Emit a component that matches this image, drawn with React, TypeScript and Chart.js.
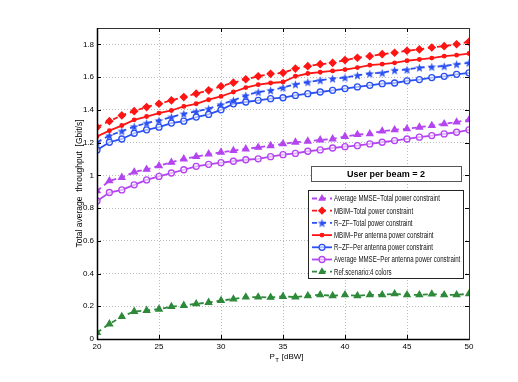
import React, { useEffect, useRef } from "react";
import { Chart, registerables } from "chart.js";
import { drawPoint } from "chart.js/helpers";

Chart.register(...registerables);

// ---------------- data ----------------
const powerDbw = [20, 21, 22, 23, 24, 25, 26, 27, 28, 29, 30, 31, 32, 33, 34, 35, 36, 37, 38, 39, 40, 41, 42, 43, 44, 45, 46, 47, 48, 49, 50];

const avgMmseTotal = [0.905, 0.966, 0.987, 1.02, 1.036, 1.058, 1.079, 1.1, 1.114, 1.13, 1.141, 1.151, 1.161, 1.171, 1.181, 1.192, 1.202, 1.208, 1.216, 1.222, 1.237, 1.249, 1.253, 1.27, 1.278, 1.284, 1.294, 1.304, 1.314, 1.325, 1.339];
const mbimTotal = [1.294, 1.331, 1.366, 1.392, 1.417, 1.437, 1.458, 1.478, 1.499, 1.519, 1.544, 1.566, 1.587, 1.605, 1.62, 1.626, 1.652, 1.667, 1.679, 1.687, 1.704, 1.718, 1.728, 1.74, 1.749, 1.761, 1.769, 1.781, 1.789, 1.801, 1.816];
const rzfTotal = [1.202, 1.243, 1.27, 1.298, 1.319, 1.335, 1.356, 1.376, 1.39, 1.407, 1.433, 1.458, 1.488, 1.509, 1.519, 1.536, 1.556, 1.57, 1.581, 1.591, 1.597, 1.611, 1.622, 1.626, 1.642, 1.646, 1.658, 1.663, 1.667, 1.679, 1.687];
const mbimPerAntenna = [1.237, 1.273, 1.304, 1.339, 1.359, 1.38, 1.396, 1.421, 1.437, 1.462, 1.482, 1.509, 1.536, 1.554, 1.564, 1.57, 1.605, 1.622, 1.63, 1.638, 1.646, 1.658, 1.673, 1.679, 1.687, 1.7, 1.708, 1.716, 1.728, 1.734, 1.744];
const rzfPerAntenna = [1.155, 1.202, 1.222, 1.257, 1.278, 1.294, 1.319, 1.331, 1.356, 1.372, 1.4, 1.437, 1.448, 1.458, 1.468, 1.474, 1.488, 1.499, 1.509, 1.519, 1.53, 1.54, 1.55, 1.56, 1.564, 1.577, 1.585, 1.597, 1.605, 1.617, 1.626];
const avgMmsePerAntenna = [0.843, 0.895, 0.911, 0.942, 0.972, 0.993, 1.014, 1.034, 1.055, 1.067, 1.077, 1.086, 1.095, 1.101, 1.114, 1.126, 1.134, 1.147, 1.155, 1.167, 1.175, 1.181, 1.192, 1.202, 1.212, 1.222, 1.233, 1.243, 1.253, 1.263, 1.278];
const refScenario = [0.039, 0.092, 0.137, 0.168, 0.174, 0.182, 0.198, 0.205, 0.215, 0.223, 0.235, 0.244, 0.256, 0.256, 0.254, 0.26, 0.256, 0.264, 0.27, 0.264, 0.27, 0.264, 0.27, 0.27, 0.276, 0.27, 0.27, 0.274, 0.27, 0.27, 0.276];

const seriesLabels = [
  "Average MMSE\u2212Total power constraint",
  "MBIM\u2212Total power constraint",
  "R\u2212ZF\u2212Total power constraint",
  "MBIM\u2212Per antenna power constraint",
  "R\u2212ZF\u2212Per antenna power constraint",
  "Average MMSE\u2212Per antenna power constraint",
  "Ref.scenario:4 colors",
];

const annotationText = "User per beam = 2";
const xTitleMain = "P";
const xTitleSub = "T";
const xTitleUnit = " [dBW]";
const yTitle = "Total average  throughput  [Gbit/s]";

// ---------------- styling ----------------
const RED = "#ff1414";
const BLUE = "#2a4ff2";
const PURPLE = "#b445f0";
const GREEN = "#2e8a3a";
const FONT = "'Liberation Sans Narrow', 'Liberation Sans', Arial, sans-serif";
const DASH = [5, 4];

function makeStar(color: string, r: number) {
  const c = document.createElement("canvas");
  const s = Math.ceil(r * 2 + 2);
  c.width = s;
  c.height = s;
  const ctx = c.getContext("2d")!;
  ctx.beginPath();
  for (let i = 0; i < 10; i++) {
    const ang = -Math.PI / 2 + (i * Math.PI) / 5;
    const rr = i % 2 === 0 ? r : r * 0.42;
    ctx.lineTo(s / 2 + rr * Math.cos(ang), s / 2 + rr * Math.sin(ang) + 0.5);
  }
  ctx.closePath();
  ctx.fillStyle = color;
  ctx.fill();
  return c;
}

const toPts = (ys: number[]) => powerDbw.map((x, i) => ({ x, y: ys[i] }));

function condensedText(ctx: CanvasRenderingContext2D, text: string, x: number, y: number, sx: number) {
  ctx.save();
  ctx.translate(x, y);
  ctx.scale(sx, 1);
  ctx.fillText(text, 0, 0);
  ctx.restore();
}

const framePlugin = {
  id: "frame",
  afterDraw(chart: any) {
    const { ctx, chartArea: a, scales } = chart;
    ctx.save();
    ctx.strokeStyle = "#000";
    ctx.lineWidth = 1;
    ctx.setLineDash([]);
    const tl = 4;
    const seg = (x1: number, y1: number, x2: number, y2: number) => {
      ctx.beginPath();
      ctx.moveTo(x1, y1);
      ctx.lineTo(x2, y2);
      ctx.stroke();
    };
    scales.x.ticks.forEach((t: any) => {
      const px = Math.round(scales.x.getPixelForValue(t.value)) + 0.5;
      seg(px, a.bottom, px, a.bottom - tl);
      seg(px, a.top, px, a.top + tl);
    });
    scales.y.ticks.forEach((t: any) => {
      const py = Math.round(scales.y.getPixelForValue(t.value)) + 0.5;
      seg(a.left, py, a.left + tl, py);
      seg(a.right, py, a.right - tl, py);
    });
    // axes box
    ctx.strokeStyle = "#333";
    ctx.strokeRect(Math.round(a.left) + 0.5, Math.round(a.top) + 0.5, Math.round(a.right - a.left), Math.round(a.bottom - a.top));
    ctx.strokeStyle = "#000";
    ctx.lineWidth = 1.5;
    seg(Math.round(a.left) + 0.5, a.top, Math.round(a.left) + 0.5, a.bottom + 0.75);
    seg(a.left, Math.round(a.bottom) + 0.5, a.right + 0.5, Math.round(a.bottom) + 0.5);

    // x axis title with subscript
    ctx.fillStyle = "#000";
    ctx.textBaseline = "alphabetic";
    ctx.textAlign = "left";
    const cx = (a.left + a.right) / 2 + 3;
    const ty = 359;
    ctx.font = `8px ${FONT}`;
    const wP = ctx.measureText(xTitleMain).width;
    ctx.font = `6px ${FONT}`;
    const wT = ctx.measureText(xTitleSub).width;
    ctx.font = `8px ${FONT}`;
    const wU = ctx.measureText(xTitleUnit).width;
    const x0 = cx - (wP + wT + wU) / 2;
    ctx.fillText(xTitleMain, x0, ty);
    ctx.font = `6px ${FONT}`;
    ctx.fillText(xTitleSub, x0 + wP + 0.5, ty + 3);
    ctx.font = `8px ${FONT}`;
    ctx.fillText(xTitleUnit, x0 + wP + wT + 1, ty);

    // annotation box
    ctx.lineWidth = 1;
    ctx.fillStyle = "#fff";
    ctx.fillRect(311, 166, 150, 15);
    ctx.strokeStyle = "#555";
    ctx.strokeRect(311.5, 166.5, 150, 15);
    ctx.fillStyle = "#000";
    ctx.font = `bold 9px ${FONT}`;
    ctx.textAlign = "center";
    ctx.textBaseline = "middle";
    ctx.fillText(annotationText, 386, 174.5);

    // legend
    const lx = 308, ly = 190, lw = 155, lh = 88;
    ctx.fillStyle = "#fff";
    ctx.fillRect(lx, ly, lw, lh);
    ctx.strokeStyle = "#222";
    ctx.strokeRect(lx + 0.5, ly + 0.5, lw, lh);
    ctx.textAlign = "left";
    ctx.textBaseline = "middle";
    chart.data.datasets.forEach((ds: any, i: number) => {
      const y = 198.5 + i * 12.2;
      ctx.save();
      ctx.strokeStyle = ds.borderColor;
      ctx.lineWidth = ds.borderWidth;
      ctx.setLineDash(ds.borderDash || []);
      seg(312, y, 332, y);
      ctx.setLineDash([]);
      ctx.fillStyle = ds.pointBackgroundColor;
      ctx.strokeStyle = ds.borderColor;
      ctx.lineWidth = ds.pointBorderWidth;
      const r = typeof ds.pointStyle === "string" ? Math.min(ds.pointRadius, 3.2) : ds.pointRadius;
      drawPoint(ctx, { pointStyle: ds.pointStyle, radius: r, borderWidth: ds.pointBorderWidth, rotation: 0 }, 322, y);
      ctx.restore();
      ctx.fillStyle = "#111";
      ctx.font = `8.5px 'Liberation Sans', Arial, sans-serif`;
      condensedText(ctx, seriesLabels[i], 334, y + 0.5, 0.72);
    });
    ctx.restore();
  },
};

export default function App() {
  const ref = useRef<HTMLCanvasElement | null>(null);
  useEffect(() => {
    document.body.style.margin = "0";
    const canvas = ref.current!;
    const star = makeStar(BLUE, 4.5);
    const base = { borderWidth: 1.8, pointBorderWidth: 1.3, tension: 0, fill: false };
    const chart = new Chart(canvas, {
      type: "line",
      data: {
        datasets: [
          { ...base, label: seriesLabels[0], data: toPts(avgMmseTotal), borderColor: PURPLE, backgroundColor: PURPLE, pointBackgroundColor: PURPLE, borderDash: DASH, pointStyle: "triangle", pointRadius: 3.6 },
          { ...base, label: seriesLabels[1], data: toPts(mbimTotal), borderColor: RED, backgroundColor: RED, pointBackgroundColor: RED, borderDash: DASH, pointStyle: "rectRot", pointRadius: 3.4 },
          { ...base, label: seriesLabels[2], data: toPts(rzfTotal), borderColor: BLUE, backgroundColor: BLUE, pointBackgroundColor: BLUE, borderDash: DASH, pointStyle: star, pointRadius: 4.5 },
          { ...base, label: seriesLabels[3], data: toPts(mbimPerAntenna), borderColor: RED, backgroundColor: RED, pointBackgroundColor: RED, pointStyle: "circle", pointRadius: 1.8 },
          { ...base, label: seriesLabels[4], data: toPts(rzfPerAntenna), borderColor: BLUE, backgroundColor: BLUE, pointBackgroundColor: "rgba(255,255,255,0.6)", pointStyle: "circle", pointRadius: 3 },
          { ...base, label: seriesLabels[5], data: toPts(avgMmsePerAntenna), borderColor: PURPLE, backgroundColor: PURPLE, pointBackgroundColor: "rgba(255,255,255,0.6)", pointStyle: "circle", pointRadius: 3 },
          { ...base, label: seriesLabels[6], data: toPts(refScenario), borderColor: GREEN, backgroundColor: GREEN, pointBackgroundColor: GREEN, borderDash: DASH, pointStyle: "triangle", pointRadius: 3.6 },
        ] as any,
      },
      options: {
        animation: false,
        responsive: false,
        devicePixelRatio: 1,
        layout: { padding: { left: 0, top: 28, right: 49, bottom: 0 } },
        plugins: { legend: { display: false }, tooltip: { enabled: false } },
        elements: { line: { borderCapStyle: "butt" } },
        scales: {
          x: {
            type: "linear",
            min: 20,
            max: 50,
            ticks: { stepSize: 5, color: "#000", font: { size: 8, family: FONT }, padding: 3, maxRotation: 0 },
            grid: { color: "#bdbdbd", lineWidth: 1, drawTicks: false },
            border: { display: false, dash: [1, 2] },
            afterFit: (s: any) => { s.height = 43; },
          },
          y: {
            type: "linear",
            min: 0,
            max: 1.9,
            ticks: {
              stepSize: 0.2,
              includeBounds: false,
              color: "#000",
              font: { size: 8, family: FONT },
              padding: 3,
              callback: (v: any) => String(parseFloat(Number(v).toFixed(1))),
            },
            grid: { color: "#bdbdbd", lineWidth: 1, drawTicks: false },
            border: { display: false, dash: [1, 2] },
            title: { display: true, text: yTitle, color: "#000", font: { size: 8.5, family: FONT }, padding: { top: 75, bottom: 0 } },
            afterFit: (s: any) => { s.width = 97; },
          },
        },
      } as any,
      plugins: [framePlugin],
    });
    return () => chart.destroy();
  }, []);
  return (
    <div style={{ width: 518, height: 382, background: "#fff" }}>
      <canvas ref={ref} width={518} height={382} style={{ display: "block", width: 518, height: 382 }} />
    </div>
  );
}
